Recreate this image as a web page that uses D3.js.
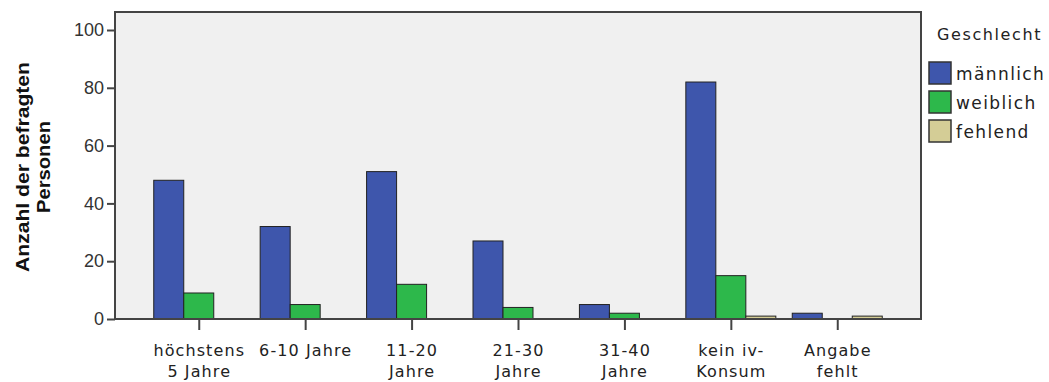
<!DOCTYPE html>
<html><head><meta charset="utf-8">
<script src="https://cdn.jsdelivr.net/npm/d3@7"></script>
<style>body{margin:0;background:#fff;} svg{display:block;}</style>
</head><body>
<svg id="c" width="1049" height="382"></svg>
<script>
const categories = ["höchstens\n5 Jahre", "6-10 Jahre", "11-20\nJahre", "21-30\nJahre", "31-40\nJahre", "kein iv-\nKonsum", "Angabe\nfehlt"];
const seriesNames = ["männlich", "weiblich", "fehlend"];
const maennlich = [48, 32, 51, 27, 5, 82, 2];
const weiblich = [9, 5, 12, 4, 2, 15, 0];
const fehlend = [0, 0, 0, 0, 0, 1, 1];
const yTicks = [0, 20, 40, 60, 80, 100];
const colors = ["#3e56ac", "#2db84b", "#d4cd96"];
const seriesValues = [maennlich, weiblich, fehlend];

const svg = d3.select("#c");
const L = 115, R = 921, T = 12, B = 319;
const y = d3.scaleLinear().domain([0, 100]).range([B, 30]);
const x0 = d3.scaleBand().domain(d3.range(categories.length)).range([L, R]).paddingInner(0).paddingOuter(0.287);
const barW = 30;
const x1 = d3.scaleBand().domain(d3.range(3)).range([0, barW * 3]);

svg.append("rect").attr("x", L).attr("y", T).attr("width", R - L).attr("height", B - T)
  .attr("fill", "#f0f0f0").attr("stroke", "none");

// bars
categories.forEach((c, i) => {
  const cx = x0(i) + x0.bandwidth() / 2;
  const g = svg.append("g").attr("transform", `translate(${cx - barW * 1.5},0)`);
  seriesValues.forEach((vals, s) => {
    const v = vals[i];
    if (v <= 0) return;
    g.append("rect").attr("x", x1(s)).attr("y", y(v)).attr("width", x1.bandwidth()).attr("height", B - y(v))
      .attr("fill", colors[s]).attr("stroke", "#222").attr("stroke-width", 1);
  });
});

// frame
svg.append("rect").attr("x", L).attr("y", T).attr("width", R - L).attr("height", B - T)
  .attr("fill", "none").attr("stroke", "#444").attr("stroke-width", 2);

// y axis
const yAxis = svg.append("g").attr("transform", `translate(${L},0)`)
  .call(d3.axisLeft(y).tickValues(yTicks).tickSize(8).tickPadding(3));
yAxis.select(".domain").remove();
yAxis.selectAll(".tick line").attr("stroke", "#444").attr("stroke-width", 2);
yAxis.selectAll(".tick text").attr("font-family", "Liberation Sans, Arial, sans-serif").attr("font-size", 18).attr("fill", "#333");

// x axis
const xAxis = svg.append("g").attr("transform", `translate(0,${B})`)
  .call(d3.axisBottom(d3.scalePoint().domain(d3.range(categories.length)).range([x0(0) + x0.bandwidth() / 2, x0(categories.length - 1) + x0.bandwidth() / 2])).tickSize(11).tickFormat(""));
xAxis.select(".domain").remove();
xAxis.selectAll(".tick line").attr("stroke", "#444").attr("stroke-width", 2);
xAxis.selectAll(".tick").each(function(d) {
  const lines = categories[d].split("\n");
  const t = d3.select(this).append("text").attr("text-anchor", "middle")
    .attr("font-family", "DejaVu Sans, sans-serif").attr("font-size", 16).attr("fill", "#222")
    .attr("letter-spacing", 1.1);
  lines.forEach((ln, k) => t.append("tspan").attr("x", 0).attr("y", 37 + k * 21).text(ln));
});

// y title
const yt = svg.append("text").attr("transform", "translate(0,167) rotate(-90)").attr("text-anchor", "middle")
  .attr("font-family", "Liberation Sans, Arial, sans-serif").attr("font-weight", "bold").attr("font-size", 18).attr("fill", "#111");
yt.append("tspan").attr("x", 0).attr("y", 29).attr("textLength", 210).attr("lengthAdjust", "spacingAndGlyphs").text("Anzahl der befragten");
yt.append("tspan").attr("x", 0).attr("y", 50).attr("textLength", 92).attr("lengthAdjust", "spacingAndGlyphs").text("Personen");

// legend
svg.append("text").attr("x", 937).attr("y", 40).attr("font-family", "DejaVu Sans, sans-serif").attr("font-size", 16)
  .attr("letter-spacing", 1.6).attr("fill", "#222").text("Geschlecht");
seriesNames.forEach((n, i) => {
  const yy = 62 + i * 29;
  svg.append("rect").attr("x", 929).attr("y", yy).attr("width", 22).attr("height", 22)
    .attr("fill", colors[i]).attr("stroke", "#333").attr("stroke-width", 1.5);
  svg.append("text").attr("x", 956).attr("y", yy + 18).attr("font-family", "DejaVu Sans, sans-serif").attr("font-size", 17)
    .attr("letter-spacing", 1.4).attr("fill", "#222").text(n);
});
</script>
</body></html>
